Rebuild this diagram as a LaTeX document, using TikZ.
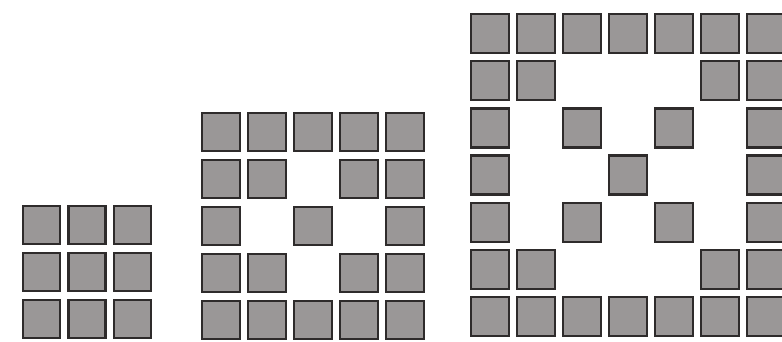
\documentclass[tikz,border=0pt]{standalone}
\usepackage{tikz}
\definecolor{CellGray}{HTML}{9A9797}
\definecolor{CellEdge}{HTML}{2E2B2B}

\begin{document}
\begin{tikzpicture}[x=1pt, y=-1pt,
    cell/.style={fill=CellGray, draw=CellEdge, line width=2.4pt}]
  \useasboundingbox (0,0) rectangle (782,341);

  % small grid, all nine cells
  \foreach \i in {0,1,2}
    \foreach \j in {0,1,2}
      \draw[cell] ({23+45.5*\i},{206+47*\j}) rectangle +(37,38);

  % middle grid, 5 x 5
  \foreach \j/\cols in {0/{0,1,2,3,4}, 1/{0,1,3,4}, 2/{0,2,4},
                        3/{0,1,3,4}, 4/{0,1,2,3,4}}
    \foreach \i in \cols
      \draw[cell] ({202+46*\i},{113+47*\j}) rectangle +(38,38);

  % large grid, 7 x 7
  \foreach \j/\cols in {0/{0,1,2,3,4,5,6}, 1/{0,1,5,6}, 2/{0,2,4,6},
                        3/{0,3,6}, 4/{0,2,4,6}, 5/{0,1,5,6},
                        6/{0,1,2,3,4,5,6}}
    \foreach \i in \cols
      \draw[cell] ({471+46*\i},{14+47.2*\j}) rectangle +(38,39);
\end{tikzpicture}
\end{document}
